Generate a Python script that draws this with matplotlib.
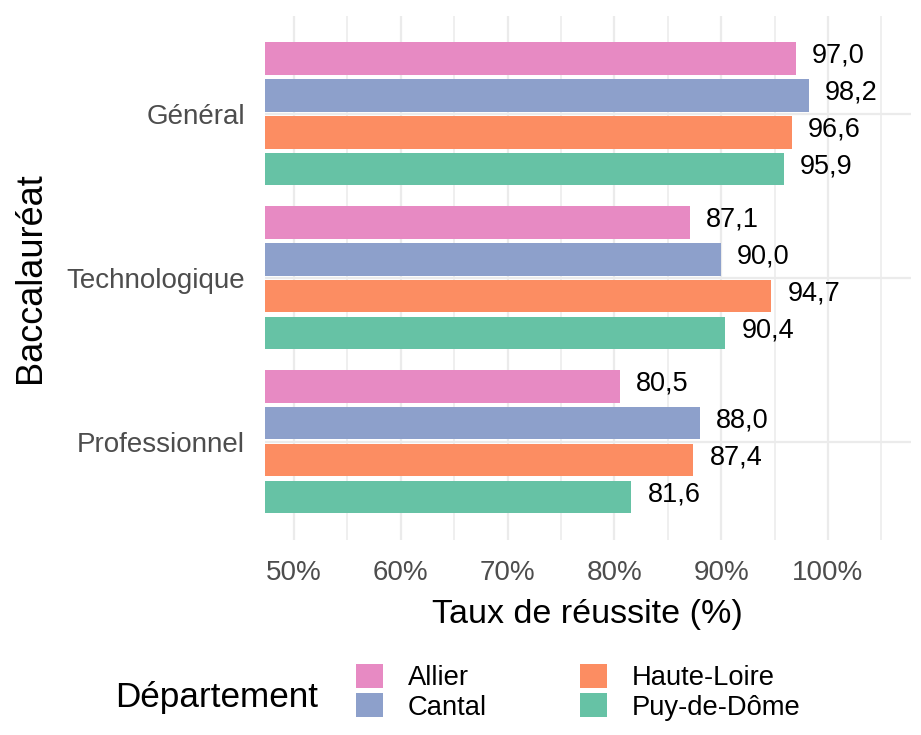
import matplotlib
matplotlib.use("Agg")
import matplotlib.pyplot as plt
from matplotlib.patches import Patch
import numpy as np

plt.rcParams["font.family"] = ["Liberation Sans", "DejaVu Sans"]

# data
bacs = ["Général", "Technologique", "Professionnel"]
departements = ["Allier", "Cantal", "Haute-Loire", "Puy-de-Dôme"]
allier = [97.0, 87.1, 80.5]
cantal = [98.2, 90.0, 88.0]
haute_loire = [96.6, 94.7, 87.4]
puy_de_dome = [95.9, 90.4, 81.6]
colors = ["#E78AC3", "#8DA0CB", "#FC8D62", "#66C2A5"]
xticks = [50, 60, 70, 80, 90, 100]
xtick_labels = ["50%", "60%", "70%", "80%", "90%", "100%"]

series = [allier, cantal, haute_loire, puy_de_dome]

W, H = 921, 735
fig = plt.figure(figsize=(W / 100, H / 100), dpi=100)
ax = fig.add_axes([264.6 / W, 1 - 540 / H, 646.1 / W, 524.4 / H])

grid_col = "#EBEBEB"
ax.set_xlim(47.25, 107.75)
ax.set_ylim(2.6, -0.6)
ax.set_xticks(xticks)
ax.set_xticks([55, 65, 75, 85, 95, 105], minor=True)
ax.set_xticklabels(xtick_labels)
ax.set_yticks(range(len(bacs)))
ax.set_yticklabels(bacs)
ax.grid(True, which="major", color=grid_col, linewidth=1.6)
ax.grid(True, which="minor", axis="x", color=grid_col, linewidth=1.1)
ax.set_axisbelow(True)
for s in ax.spines.values():
    s.set_visible(False)
ax.tick_params(which="both", length=0)
ax.tick_params(axis="y", pad=14, labelsize=20, labelcolor="#4D4D4D")
ax.tick_params(axis="x", pad=14.5, labelsize=20, labelcolor="#4D4D4D")

pos = np.arange(len(bacs))
step = 0.225
for i, (name, vals, col) in enumerate(zip(departements, series, colors)):
    y = pos + (i - 1.5) * step
    ax.barh(y, vals, height=0.197, color=col, label=name)
    for yy, v in zip(y, vals):
        ax.text(v + 1.5, yy + 0.026, f"{v:.1f}".replace(".", ","),
                ha="left", va="baseline", fontsize=19.5, color="black")

ax.set_xlabel("Taux de réussite (%)", fontsize=24.5, labelpad=9)
ax.set_ylabel("Baccalauréat", fontsize=26, labelpad=13)

fig.text(115 / W, 1 - 697 / H, "Département", fontsize=25.3,
         ha="left", va="center")
handles = [Patch(facecolor=c, label=n) for n, c in zip(departements, colors)]
fig.legend(handles=handles, ncol=2, frameon=False, loc="upper left",
           bbox_to_anchor=(356 / W, 1 - 664 / H), fontsize=19.7,
           borderpad=0, handlelength=0.98, handleheight=0.98,
           handletextpad=0.92, labelspacing=0.06, columnspacing=3.4,
           borderaxespad=0)

fig.savefig("out.png", dpi=100)
